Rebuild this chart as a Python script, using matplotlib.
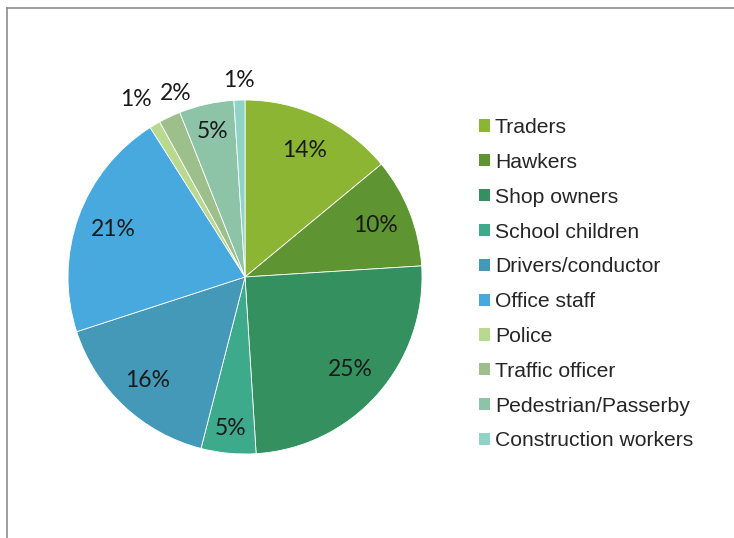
import numpy as np
import matplotlib
matplotlib.use("Agg")
import matplotlib.pyplot as plt
from matplotlib.patches import Patch

categories = ["Traders", "Hawkers", "Shop owners", "School children", "Drivers/conductor",
              "Office staff", "Police", "Traffic officer", "Pedestrian/Passerby",
              "Construction workers"]
shares = [14, 10, 25, 5, 16, 21, 1, 2, 5, 1]
colors = ["#8BB533", "#5F9432", "#34905F", "#3DAA8C", "#4499B8",
          "#47A9DD", "#B9DA8E", "#9CBF8C", "#8DC3A6", "#8FD3C7"]

# label placement: distance from centre (fraction of radius) and angle nudge (deg)
label_dist = [0.79, 0.79, 0.79, 0.86, 0.80, 0.79, 1.18, 1.11, 0.84, 1.11]
label_nudge = [0, 0, 0, 0, 0, 0, 1.0, -4.5, 0, 0]

W, H = 734, 538
fig = plt.figure(figsize=(W / 100, H / 100), dpi=100)

# frame lines (top and left)
fig.add_artist(plt.Line2D([7 / W, 1], [1 - 8 / H, 1 - 8 / H], color="#8c8c8c", lw=1.2))
fig.add_artist(plt.Line2D([7 / W, 7 / W], [0, 1 - 8 / H], color="#8c8c8c", lw=1.2))

R = 177
cx, cy = 245, H - 277
lim = 1.3
side = 2 * R * lim
ax = fig.add_axes([(cx - side / 2) / W, (cy - side / 2) / H, side / W, side / H])

wedges, _ = ax.pie(shares, colors=colors, startangle=90, counterclock=False,
                   wedgeprops=dict(edgecolor="white", linewidth=0.6))
ax.set_xlim(-lim, lim)
ax.set_ylim(-lim, lim)
ax.set_aspect("equal")

for w, val, d, nudge in zip(wedges, shares, label_dist, label_nudge):
    ang = np.deg2rad((w.theta1 + w.theta2) / 2 + nudge)
    ax.text(d * np.cos(ang), d * np.sin(ang), f"{val}%", ha="center", va="center",
            fontsize=16.5, family=["Lato", "DejaVu Sans"], color="#1a1a1a")

handles = [Patch(facecolor=c, edgecolor="none") for c in colors]
fig.legend(handles, categories, loc="upper left", bbox_to_anchor=(479 / W, 1 - 118 / H),
           frameon=False, prop=dict(family=["Liberation Sans", "DejaVu Sans"], size=15.2),
           labelcolor="#262626", handlelength=0.5, handleheight=0.5, handletextpad=0.25,
           labelspacing=0.75, borderpad=0, borderaxespad=0)

fig.savefig("out.png", dpi=100)
